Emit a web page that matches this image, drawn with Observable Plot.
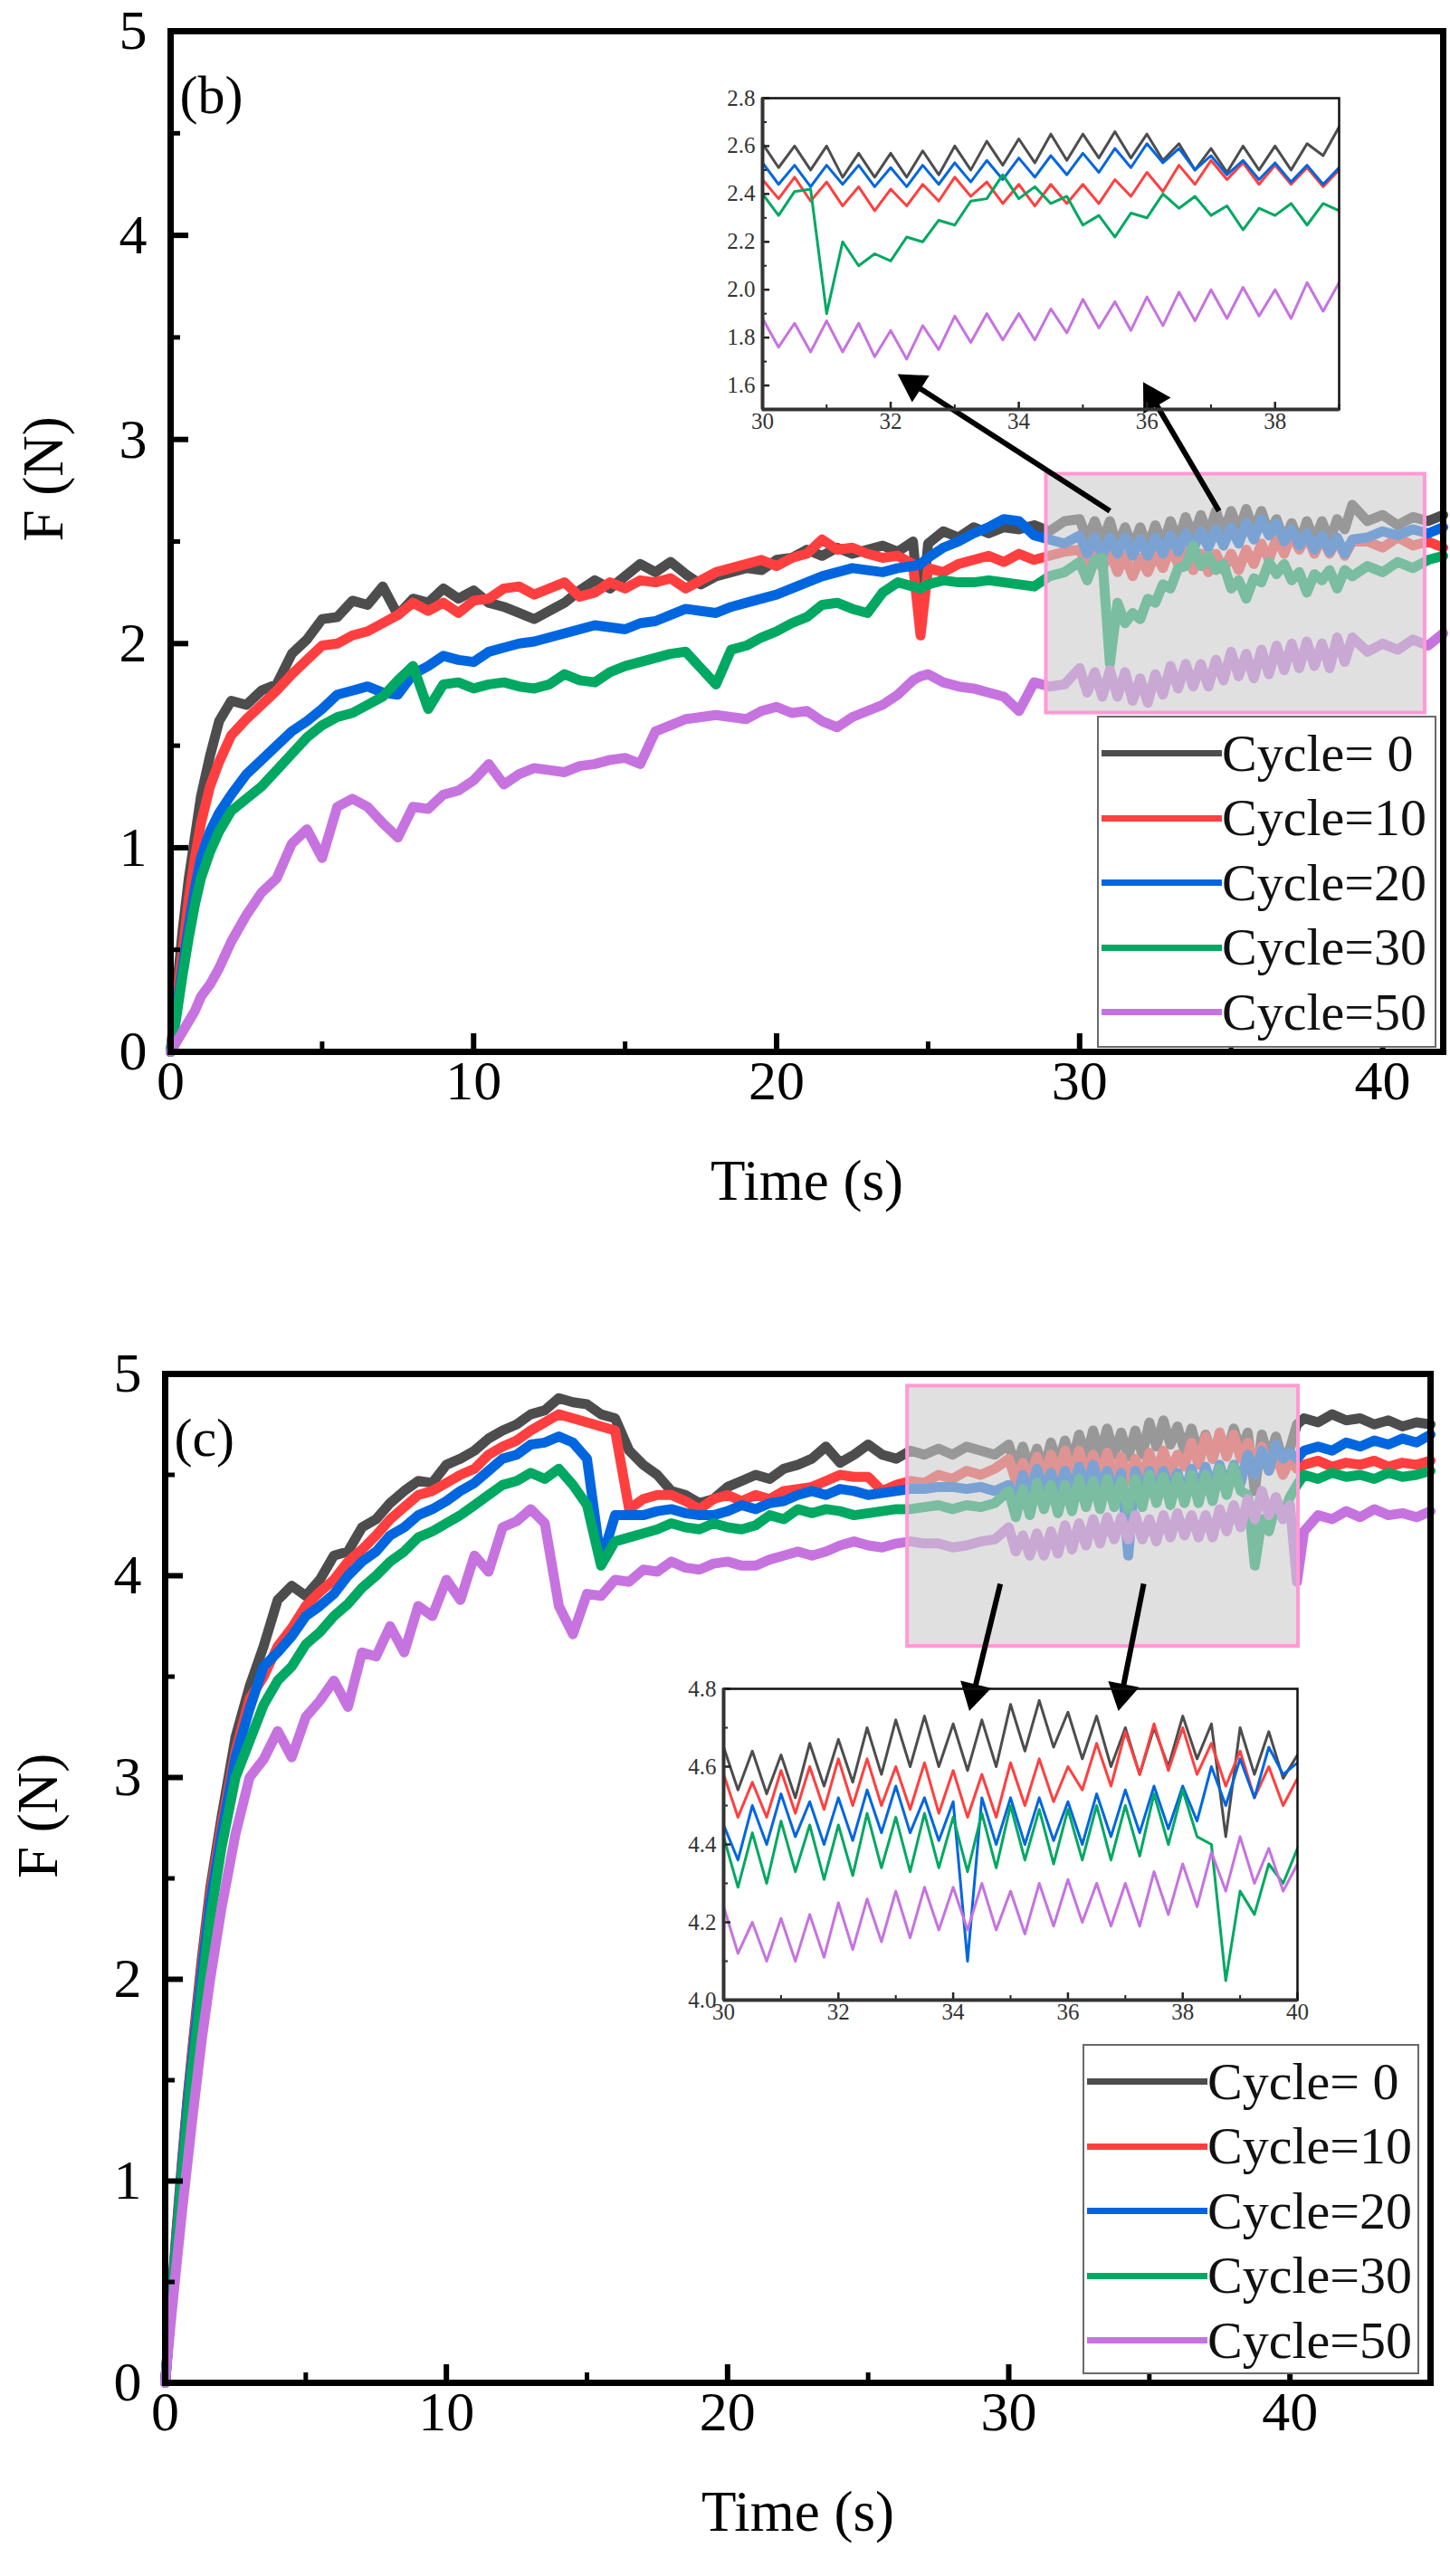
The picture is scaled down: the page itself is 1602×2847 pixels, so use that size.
<!DOCTYPE html>
<html><head><meta charset="utf-8">
<script src="https://cdn.jsdelivr.net/npm/d3@7"></script>
<script src="https://cdn.jsdelivr.net/npm/@observablehq/plot@0.6"></script>
<style>
body{margin:0;background:#fff;}
#page{position:relative;width:1602px;height:2847px;background:#fff;overflow:hidden;font-family:'Liberation Serif','Times New Roman',serif;}
.abs{position:absolute;}
.legend{position:absolute;border:2px solid #6a6a6a;background:#fff;box-sizing:border-box;}
.legend .row{display:flex;align-items:center;}
.legend .sw{width:133px;height:7px;margin-left:3px;}
.legend .lb{font-size:58px;line-height:1;white-space:pre;color:#111;}
</style></head><body><div id="page"></div>
<script>
// ---------- shared ----------
const seriesNames = ["Cycle= 0","Cycle=10","Cycle=20","Cycle=30","Cycle=50"];
const seriesColors = ["#4d4d4d","#ff3f3f","#0066e0","#00a862","#c673e0"];

// ---------- panel (b) ----------
const timeB = [
 0,0.2,0.4,0.6,0.8,1,1.3,1.6,2,
 2.5,3,3.5,4,4.5,5,5.5,6,6.5,7,
 7.5,8,8.5,9,9.5,10,10.5,11,11.5,12,
 12.5,13,13.5,14,14.5,15,15.5,16,16.5,17,
 17.5,18,18.5,19,19.5,20,20.5,21,21.5,22,
 22.5,23,23.5,24,24.5,24.75,25,25.5,26,26.5,
 27,27.5,28,28.5,29,29.5,
 30,30.25,30.5,30.75,31,31.25,31.5,31.75,32,32.25,
 32.5,32.75,33,33.25,33.5,33.75,34,34.25,34.5,34.75,
 35,35.25,35.5,35.75,36,36.25,36.5,36.75,37,37.25,
 37.5,37.75,38,38.25,38.5,38.75,39,
 39.5,40,40.5,41,41.5,42];
const cycle0B = [
 0,0.3,0.6,0.85,1.05,1.25,1.45,1.62,1.72,
 1.7,1.77,1.8,1.95,2.02,2.12,2.13,2.21,2.19,2.28,
 2.14,2.22,2.2,2.27,2.22,2.26,2.2,2.18,2.15,2.12,
 2.16,2.2,2.26,2.31,2.27,2.33,2.39,2.35,2.4,2.34,
 2.29,2.33,2.35,2.37,2.36,2.41,2.42,2.46,2.43,2.47,
 2.44,2.46,2.48,2.45,2.5,2.1,2.49,2.55,2.52,2.57,
 2.54,2.57,2.56,2.58,2.55,2.6,
 2.61,2.51,2.6,2.5,2.6,2.47,2.57,2.47,2.57,2.47,
 2.58,2.48,2.6,2.5,2.62,2.52,2.63,2.53,2.65,2.54,
 2.65,2.55,2.66,2.55,2.65,2.54,2.61,2.5,2.59,2.49,
 2.6,2.5,2.6,2.5,2.61,2.56,2.68,
 2.6,2.63,2.58,2.62,2.6,2.63];
const cycle10B = [
 0,0.25,0.5,0.75,0.95,1.12,1.3,1.42,1.55,
 1.63,1.7,1.77,1.85,1.92,1.99,2.0,2.04,2.06,2.1,
 2.14,2.2,2.16,2.2,2.15,2.21,2.22,2.27,2.28,2.24,
 2.27,2.3,2.23,2.25,2.3,2.27,2.31,2.3,2.32,2.27,
 2.31,2.35,2.37,2.39,2.41,2.38,2.42,2.44,2.51,2.46,
 2.47,2.44,2.42,2.43,2.39,2.04,2.37,2.35,2.39,2.41,
 2.43,2.4,2.44,2.41,2.43,2.45,
 2.46,2.38,2.47,2.37,2.45,2.35,2.43,2.33,2.42,2.35,
 2.44,2.37,2.47,2.39,2.45,2.36,2.44,2.35,2.44,2.36,
 2.44,2.36,2.46,2.39,2.49,2.41,2.52,2.44,2.54,2.46,
 2.53,2.44,2.52,2.44,2.51,2.43,2.5,
 2.5,2.47,2.52,2.48,2.5,2.47];
const cycle20B = [
 0,0.2,0.42,0.62,0.8,0.95,1.08,1.17,1.26,
 1.36,1.43,1.5,1.57,1.62,1.68,1.75,1.77,1.79,1.76,
 1.75,1.85,1.89,1.94,1.92,1.91,1.96,1.98,2.0,2.01,
 2.03,2.05,2.07,2.09,2.08,2.07,2.1,2.11,2.14,2.17,
 2.16,2.15,2.18,2.2,2.22,2.24,2.27,2.3,2.33,2.35,
 2.37,2.36,2.35,2.37,2.38,2.39,2.42,2.47,2.5,2.54,
 2.57,2.61,2.6,2.53,2.51,2.49,
 2.53,2.44,2.52,2.43,2.52,2.44,2.52,2.43,2.51,2.43,
 2.52,2.44,2.53,2.45,2.54,2.46,2.55,2.47,2.56,2.48,
 2.57,2.49,2.59,2.51,2.61,2.53,2.59,2.5,2.56,2.48,
 2.54,2.46,2.53,2.45,2.52,2.44,2.51,
 2.52,2.55,2.53,2.56,2.54,2.57];
const cycle30B = [
 0,0.18,0.38,0.56,0.72,0.85,0.98,1.08,1.18,
 1.24,1.3,1.38,1.46,1.54,1.6,1.64,1.66,1.7,1.74,
 1.82,1.89,1.68,1.8,1.81,1.78,1.8,1.81,1.79,1.78,
 1.8,1.85,1.82,1.81,1.86,1.89,1.91,1.93,1.95,1.96,
 1.88,1.8,1.97,1.99,2.03,2.06,2.1,2.13,2.19,2.2,
 2.17,2.15,2.25,2.3,2.28,2.27,2.29,2.31,2.3,2.3,
 2.31,2.3,2.29,2.28,2.33,2.35,
 2.4,2.31,2.41,2.42,1.9,2.2,2.1,2.15,2.12,2.22,
 2.2,2.29,2.27,2.37,2.38,2.48,2.38,2.43,2.36,2.39,
 2.27,2.31,2.22,2.32,2.3,2.4,2.34,2.39,2.31,2.35,
 2.25,2.34,2.31,2.36,2.27,2.36,2.33,
 2.38,2.35,2.4,2.37,2.41,2.43];
const cycle50B = [
 0,0.05,0.1,0.15,0.2,0.27,0.33,0.41,0.54,
 0.67,0.78,0.85,1.02,1.09,0.95,1.2,1.24,1.2,1.12,
 1.05,1.2,1.19,1.26,1.28,1.33,1.41,1.31,1.36,1.39,
 1.38,1.37,1.4,1.41,1.43,1.44,1.41,1.57,1.6,1.63,
 1.64,1.65,1.64,1.63,1.67,1.69,1.66,1.67,1.62,1.59,
 1.64,1.67,1.7,1.75,1.82,1.84,1.85,1.81,1.79,1.78,
 1.76,1.74,1.67,1.81,1.79,1.8,
 1.88,1.76,1.86,1.74,1.87,1.74,1.86,1.72,1.83,1.71,
 1.85,1.75,1.89,1.78,1.9,1.79,1.9,1.79,1.92,1.82,
 1.96,1.84,1.95,1.83,1.97,1.85,1.99,1.87,2.0,1.88,
 2.01,1.89,2.0,1.88,2.03,1.91,2.03,
 1.96,2.0,1.97,2.02,1.99,2.05];
const zoomBoxB = {t1: 28.9, t2: 41.4, F1: 1.66, F2: 2.83};
const arrowsB = [{t1: 31.0, F1: 2.65, t2: 24.0, F2: 3.32}, {t1: 34.6, F1: 2.65, t2: 32.1, F2: 3.28}];
const xTicksB = [0,10,20,30,40], xMinorB = [5,15,25,35];
const insetXTicksB = [30,32,34,36,38], insetXMinorB = [31,33,35,37,39];
const insetYTicksB = [1.6,1.8,2.0,2.2,2.4,2.6,2.8], insetYMinorB = [1.7,1.9,2.1,2.3,2.5,2.7];

// ---------- panel (c) ----------
const timeC = [
 0,0.2,0.4,0.6,0.8,1,1.3,1.6,2,
 2.5,3,3.5,4,4.5,5,5.5,6,6.5,7,
 7.5,8,8.5,9,9.5,10,10.5,11,11.5,12,
 12.5,13,13.5,14,14.5,15,15.5,16,16.5,17,
 17.5,18,18.5,19,19.5,20,20.5,21,21.5,22,
 22.5,23,23.5,24,24.5,25,25.5,26,26.5,27,
 27.5,28,28.5,29,29.5,
 30,30.25,30.5,30.75,31,31.25,31.5,31.75,32,32.25,
 32.5,32.75,33,33.25,33.5,33.75,34,34.25,34.5,34.75,
 35,35.25,35.5,35.75,36,36.25,36.5,36.75,37,37.25,
 37.5,37.75,38,38.25,38.5,38.75,39,39.25,39.5,39.75,
 40,40.25,40.5,41,41.5,42,42.5,43,43.5,44,44.5,45];
const cycle0C = [
 0,0.38,0.75,1.1,1.42,1.7,2.1,2.45,2.8,
 3.2,3.45,3.65,3.88,3.95,3.9,3.98,4.1,4.12,4.24,
 4.28,4.36,4.42,4.47,4.46,4.55,4.58,4.62,4.68,4.72,
 4.75,4.8,4.82,4.88,4.86,4.85,4.8,4.78,4.62,4.55,
 4.5,4.42,4.4,4.36,4.38,4.44,4.47,4.5,4.48,4.53,
 4.55,4.58,4.64,4.56,4.6,4.65,4.6,4.58,4.62,4.6,
 4.63,4.6,4.64,4.62,4.6,
 4.65,4.54,4.64,4.53,4.63,4.52,4.66,4.55,4.67,4.56,
 4.7,4.58,4.72,4.6,4.73,4.6,4.71,4.59,4.72,4.6,
 4.76,4.64,4.77,4.65,4.74,4.62,4.73,4.6,4.7,4.58,
 4.7,4.6,4.73,4.62,4.71,4.42,4.7,4.58,4.69,4.57,
 4.63,4.75,4.78,4.76,4.8,4.77,4.78,4.75,4.77,4.74,4.76,4.75];
const cycle10C = [
 0,0.37,0.73,1.08,1.4,1.68,2.07,2.42,2.76,
 3.13,3.39,3.5,3.65,3.74,3.85,3.92,3.98,4.07,4.13,
 4.2,4.28,4.34,4.4,4.42,4.46,4.5,4.53,4.6,4.64,
 4.67,4.72,4.76,4.8,4.78,4.76,4.74,4.72,4.33,4.38,
 4.4,4.4,4.37,4.33,4.38,4.4,4.37,4.4,4.38,4.42,
 4.43,4.44,4.47,4.5,4.49,4.49,4.42,4.45,4.47,4.46,
 4.5,4.48,4.52,4.5,4.53,
 4.58,4.47,4.56,4.47,4.59,4.48,4.6,4.49,4.62,4.5,
 4.62,4.5,4.6,4.49,4.61,4.48,4.59,4.47,4.58,4.47,
 4.61,4.5,4.62,4.51,4.6,4.54,4.66,4.55,4.69,4.58,
 4.71,4.59,4.7,4.58,4.66,4.55,4.64,4.52,4.6,4.5,
 4.57,4.53,4.55,4.57,4.54,4.56,4.55,4.57,4.54,4.56,4.55,4.57];
const cycle20C = [
 0,0.36,0.72,1.06,1.38,1.65,2.03,2.38,2.72,
 3.1,3.34,3.55,3.62,3.7,3.8,3.85,3.91,4.0,4.07,
 4.12,4.2,4.24,4.3,4.33,4.37,4.42,4.46,4.52,4.58,
 4.6,4.65,4.66,4.69,4.66,4.58,4.07,4.3,4.3,4.3,
 4.32,4.33,4.31,4.3,4.3,4.32,4.35,4.33,4.36,4.37,
 4.4,4.42,4.4,4.43,4.42,4.4,4.41,4.42,4.43,4.43,
 4.44,4.44,4.43,4.44,4.42,
 4.45,4.36,4.5,4.4,4.53,4.42,4.51,4.4,4.52,4.41,
 4.54,4.43,4.55,4.43,4.52,4.41,4.51,4.1,4.52,4.4,
 4.52,4.4,4.52,4.41,4.51,4.4,4.53,4.42,4.54,4.43,
 4.55,4.44,4.55,4.46,4.6,4.5,4.62,4.52,4.65,4.58,
 4.61,4.58,4.62,4.64,4.62,4.66,4.64,4.67,4.65,4.68,4.66,4.7];
const cycle30C = [
 0,0.35,0.7,1.03,1.33,1.6,1.95,2.3,2.65,
 3.0,3.18,3.36,3.48,3.55,3.66,3.72,3.8,3.86,3.94,
 4.0,4.07,4.12,4.19,4.22,4.26,4.3,4.35,4.4,4.45,
 4.47,4.51,4.48,4.53,4.45,4.35,4.05,4.17,4.19,4.21,
 4.23,4.26,4.24,4.23,4.26,4.24,4.23,4.25,4.3,4.28,
 4.33,4.31,4.33,4.32,4.3,4.31,4.32,4.33,4.33,4.34,
 4.35,4.33,4.35,4.34,4.36,
 4.42,4.29,4.43,4.3,4.46,4.33,4.45,4.31,4.45,4.32,
 4.48,4.34,4.47,4.33,4.48,4.34,4.47,4.33,4.48,4.34,
 4.5,4.36,4.49,4.35,4.49,4.36,4.5,4.36,4.5,4.37,
 4.53,4.4,4.54,4.42,4.4,4.05,4.28,4.22,4.35,4.3,
 4.39,4.45,4.5,4.48,4.51,4.49,4.5,4.48,4.51,4.49,4.5,4.52];
const cycle50C = [
 0,0.3,0.58,0.85,1.1,1.35,1.7,2.0,2.35,
 2.72,3.0,3.09,3.23,3.1,3.3,3.38,3.48,3.35,3.62,
 3.6,3.75,3.62,3.85,3.8,3.98,3.88,4.1,4.02,4.24,
 4.27,4.33,4.26,3.85,3.71,3.91,3.9,3.98,3.97,4.03,
 4.02,4.07,4.04,4.03,4.06,4.07,4.05,4.05,4.08,4.1,
 4.12,4.1,4.12,4.15,4.17,4.15,4.14,4.16,4.17,4.16,
 4.16,4.14,4.15,4.17,4.18,
 4.24,4.12,4.2,4.1,4.21,4.1,4.22,4.11,4.25,4.13,
 4.26,4.15,4.28,4.16,4.29,4.18,4.29,4.18,4.3,4.18,
 4.28,4.17,4.3,4.19,4.31,4.2,4.3,4.19,4.3,4.19,
 4.33,4.22,4.35,4.24,4.38,4.28,4.42,4.3,4.39,4.28,
 4.35,3.97,4.22,4.3,4.28,4.32,4.29,4.33,4.3,4.31,4.29,4.32];
const zoomBoxC = {t1: 26.4, t2: 40.3, F1: 3.65, F2: 4.94};
const arrowsC = [{t1: 29.7, F1: 3.96, t2: 28.6, F2: 3.33}, {t1: 34.8, F1: 3.96, t2: 33.9, F2: 3.33}];
const xTicksC = [0,10,20,30,40], xMinorC = [5,15,25,35,45];
const insetXTicksC = [30,32,34,36,38,40], insetXMinorC = [31,33,35,37,39];
const insetYTicksC = [4.0,4.2,4.4,4.6,4.8], insetYMinorC = [4.1,4.3,4.5,4.7];

const yTicksMain = [0,1,2,3,4,5], yMinorMain = [0.5,1.5,2.5,3.5,4.5];

// ---------- helpers ----------
const serif = "'Liberation Serif','Times New Roman',serif";
function buildSeries(times, vals) {
  return vals.map((v, k) => {
    if (v.length !== times.length) throw new Error("length mismatch series " + k + ": " + v.length + " vs " + times.length);
    return times.map((t, i) => ({t, F: v[i]}));
  });
}
function place(node, left, top) {
  const d = document.createElement("div");
  d.className = "abs"; d.style.left = left + "px"; d.style.top = top + "px";
  d.appendChild(node);
  document.getElementById("page").appendChild(d);
}
// arrow geometry in pixel space: shaft end and filled head position/rotation
function arrowParts(arrows, kx, ky) {
  return arrows.map(a => {
    const vx = (a.t2 - a.t1) * kx, vy = -(a.F2 - a.F1) * ky;
    const len = Math.hypot(vx, vy), ux = vx / len, uy = vy / len;
    const headC = 20, shaftBack = 22;
    return {
      ...a,
      ht: a.t2 - ux * headC / kx, hF: a.F2 + uy * headC / ky,
      st: a.t2 - ux * shaftBack / kx, sF: a.F2 + uy * shaftBack / ky,
      rot: Math.atan2(ux, -uy) * 180 / Math.PI
    };
  });
}
function mainPanel(o) {
  const pw = o.W - o.mL - o.mR, ph = o.H - o.mT - o.mB;
  const ar = arrowParts(o.arrows, pw / o.xMax, ph / 5);
  return Plot.plot({
    width: o.W, height: o.H, marginLeft: o.mL, marginRight: o.mR, marginTop: o.mT, marginBottom: o.mB,
    x: {domain: [0, o.xMax], axis: null},
    y: {domain: [0, 5], axis: null},
    style: {fontFamily: serif, background: "transparent", overflow: "visible", color: "black"},
    marks: [
      ...o.series.map((d, i) => Plot.line(d, {x: "t", y: "F", stroke: seriesColors[i], strokeWidth: 11, strokeLinejoin: "round"})),
      Plot.rect([o.box], {x1: "t1", x2: "t2", y1: "F1", y2: "F2", fill: "#cccccc", fillOpacity: 0.6, stroke: "#ff9ad5", strokeWidth: 4}),
      Plot.link(ar, {x1: "t1", y1: "F1", x2: "st", y2: "sF", stroke: "black", strokeWidth: 6}),
      Plot.dot(ar, {x: "ht", y: "hF", symbol: "triangle", r: 13, fill: "black", stroke: "none", rotate: "rot"}),
      Plot.ruleX(o.xMajor, {x: d => d, insetTop: ph - 20, stroke: "black", strokeWidth: 6}),
      Plot.ruleX(o.xMinor, {x: d => d, insetTop: ph - 11, stroke: "black", strokeWidth: 5}),
      Plot.ruleY(yTicksMain, {y: d => d, insetRight: pw - 20, stroke: "black", strokeWidth: 6}),
      Plot.ruleY(yMinorMain, {y: d => d, insetRight: pw - 11, stroke: "black", strokeWidth: 5}),
      Plot.frame({stroke: "black", strokeWidth: 7}),
      Plot.text(o.xMajor, {x: d => d, frameAnchor: "bottom", dy: 52, text: d => String(d), fontSize: 62}),
      Plot.text(yTicksMain, {y: d => d, frameAnchor: "left", dx: -26, textAnchor: "end", text: d => String(d), fontSize: 62}),
      Plot.text(["Time (s)"], {frameAnchor: "bottom", dy: 163, text: d => d, fontSize: 63}),
      Plot.text(["F (N)"], {frameAnchor: "left", dx: -140, rotate: -90, text: d => d, fontSize: 63}),
      Plot.text([o.tag], {frameAnchor: "top-left", dx: 10, dy: 48, textAnchor: "start", text: d => d, fontSize: 60})
    ]
  });
}
function insetPanel(o) {
  const pw = o.W - o.mL - o.mR, ph = o.H - o.mT - o.mB;
  const fmt = d3.format(".1f");
  return Plot.plot({
    width: o.W, height: o.H, marginLeft: o.mL, marginRight: o.mR, marginTop: o.mT, marginBottom: o.mB,
    x: {domain: o.xDom, axis: null},
    y: {domain: o.yDom, axis: null},
    style: {fontFamily: serif, background: "transparent", overflow: "visible", color: "black"},
    marks: [
      ...o.series.map((d, i) => Plot.line(d.filter(p => p.t >= o.xDom[0] && p.t <= o.xDom[1]), {x: "t", y: "F", stroke: seriesColors[i], strokeWidth: 3, clip: true})),
      Plot.ruleX(o.xMajor, {x: d => d, insetTop: ph - 8, stroke: "#222", strokeWidth: 2.5}),
      Plot.ruleX(o.xMinor, {x: d => d, insetTop: ph - 5, stroke: "#222", strokeWidth: 2}),
      Plot.ruleY(o.yMajor, {y: d => d, insetRight: pw - 8, stroke: "#222", strokeWidth: 2.5}),
      Plot.ruleY(o.yMinor, {y: d => d, insetRight: pw - 5, stroke: "#222", strokeWidth: 2}),
      Plot.frame({stroke: "#111", strokeWidth: 2.5}),
      Plot.ruleX([o.xDom[0]], {stroke: "#333", strokeWidth: 4}),
      Plot.ruleY([o.yDom[0]], {stroke: "#333", strokeWidth: 4}),
      Plot.text(o.xMajor, {x: d => d, frameAnchor: "bottom", dy: 21, text: d => String(d), fontSize: 25, fill: "#333"}),
      Plot.text(o.yMajor, {y: d => d, frameAnchor: "left", dx: -8, textAnchor: "end", text: d => fmt(d), fontSize: 25, fill: "#333"})
    ]
  });
}
function legend(left, top, w, h, rowH, padTop) {
  const box = document.createElement("div");
  box.className = "legend";
  Object.assign(box.style, {left: left + "px", top: top + "px", width: w + "px", height: h + "px", paddingTop: padTop + "px"});
  seriesNames.forEach((n, i) => {
    const r = document.createElement("div"); r.className = "row"; r.style.height = rowH + "px";
    const s = document.createElement("span"); s.className = "sw"; s.style.background = seriesColors[i];
    const l = document.createElement("span"); l.className = "lb"; l.textContent = n;
    r.appendChild(s); r.appendChild(l); box.appendChild(r);
  });
  document.getElementById("page").appendChild(box);
}

// ---------- draw ----------
const seriesB = buildSeries(timeB, [cycle0B, cycle10B, cycle20B, cycle30B, cycle50B]);
const seriesC = buildSeries(timeC, [cycle0C, cycle10C, cycle20C, cycle30C, cycle50C]);

place(mainPanel({series: seriesB, xMax: 42, W: 1602, H: 1400, mL: 188, mR: 8, mT: 34, mB: 238,
  xMajor: xTicksB, xMinor: xMinorB, box: zoomBoxB, arrows: arrowsB, tag: "(b)"}), 0, 0);
place(insetPanel({series: seriesB, xDom: [30, 39], yDom: [1.5, 2.8], W: 707, H: 399, mL: 60, mR: 10, mT: 10, mB: 45,
  xMajor: insetXTicksB, xMinor: insetXMinorB, yMajor: insetYTicksB, yMinor: insetYMinorB}), 782, 98);
legend(1212, 791, 375, 367, 71.5, 4);

place(mainPanel({series: seriesC, xMax: 45, W: 1602, H: 1447, mL: 182, mR: 22, mT: 118, mB: 214,
  xMajor: xTicksC, xMinor: xMinorC, box: zoomBoxC, arrows: arrowsC, tag: "(c)"}), 0, 1400);
place(insetPanel({series: seriesC, xDom: [30, 40], yDom: [4.0, 4.8], W: 704, H: 399, mL: 60, mR: 10, mT: 10, mB: 45,
  xMajor: insetXTicksC, xMinor: insetXMinorC, yMajor: insetYTicksC, yMinor: insetYMinorC}), 739, 1856);
legend(1196, 2259, 372, 365, 71.5, 4);
</script></body></html>
